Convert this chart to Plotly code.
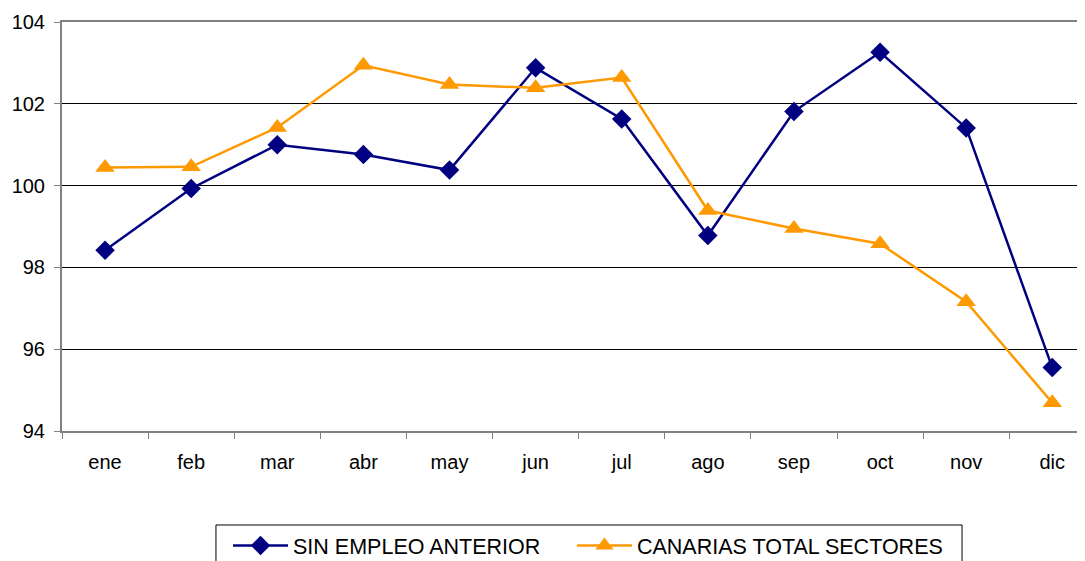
import plotly.graph_objects as go

months = ["ene", "feb", "mar", "abr", "may", "jun", "jul", "ago", "sep", "oct", "nov", "dic"]
sin_empleo = [98.42, 99.93, 101.0, 100.76, 100.38, 102.88, 101.63, 98.78, 101.81, 103.26, 101.41, 95.55]
canarias = [100.44, 100.46, 101.42, 102.94, 102.47, 102.39, 102.64, 99.39, 98.95, 98.58, 97.16, 94.69]
y_ticks = [94, 96, 98, 100, 102, 104]

fig = go.Figure()
fig.add_trace(go.Scatter(
    x=months, y=sin_empleo, name="SIN EMPLEO ANTERIOR", mode="lines+markers",
    line=dict(color="#000080", width=2.5),
    marker=dict(symbol="diamond", size=15, color="#000080"),
    legend="legend",
))
fig.add_trace(go.Scatter(
    x=months, y=canarias, name="CANARIAS TOTAL SECTORES", mode="lines+markers",
    line=dict(color="#FF9900", width=2.5),
    marker=dict(symbol="triangle-up", size=17, color="#FF9900"),
    legend="legend2",
))

legend_style = dict(
    orientation="h", xanchor="left", y=-0.23, yanchor="top",
    borderwidth=0, bgcolor="rgba(0,0,0,0)",
    font=dict(size=21.5), itemwidth=55,
)

# page body has an 8px margin, so margins are reduced by 8px
fig.update_layout(
    width=1085, height=561,
    margin=dict(l=54, r=8, t=14, b=138, autoexpand=False),
    paper_bgcolor="white", plot_bgcolor="white",
    font=dict(family="Liberation Sans, Arial", size=20, color="black"),
    showlegend=True,
    legend=dict(x=0.1623, **legend_style),
    legend2=dict(x=0.4985, **legend_style),
    shapes=[dict(
        type="rect", xref="paper", yref="paper",
        x0=0.1505, x1=0.8798, y0=-0.45, y1=-0.2298,
        line=dict(color="black", width=1), fillcolor="rgba(0,0,0,0)",
        layer="below",
    )],
)
fig.update_xaxes(
    type="category", range=[-0.5, 11.38], automargin=False,
    showline=True, linecolor="#808080", linewidth=2, mirror=True,
    ticks="outside", tickson="boundaries", ticklen=6, tickcolor="#808080", tickwidth=1,
    showgrid=False, ticklabelstandoff=12,
)
fig.update_yaxes(
    range=[94, 104], tickvals=y_ticks, automargin=False,
    showline=True, linecolor="#808080", linewidth=2,
    ticks="outside", ticklen=6, tickcolor="#808080", tickwidth=1,
    showgrid=True, gridcolor="black", gridwidth=1, zeroline=False,
    ticklabelstandoff=5,
)

fig.write_html("out.html")
